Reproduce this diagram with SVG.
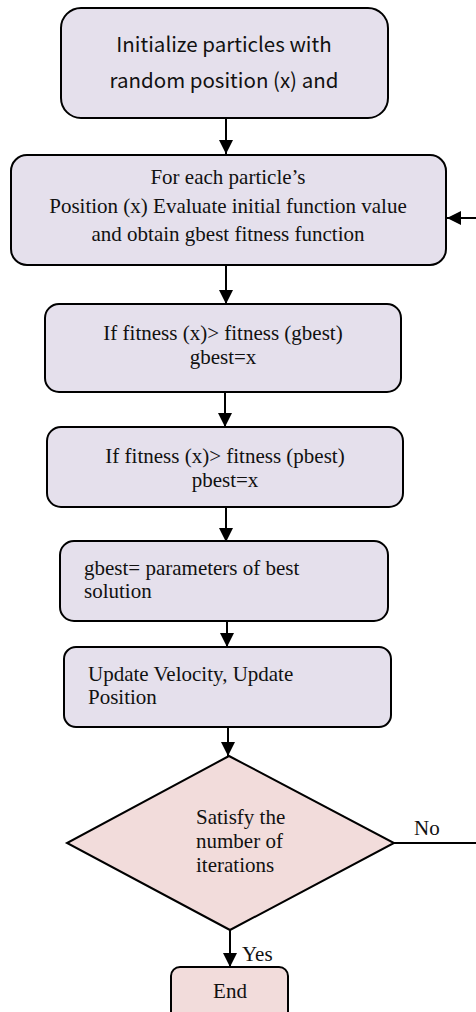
<svg xmlns="http://www.w3.org/2000/svg" width="476" height="1012" viewBox="0 0 476 1012">
<style>
.box{fill:#e5e0ec;stroke:#000;stroke-width:2}
.dec{fill:#f2dcdb;stroke:#000;stroke-width:2}
.ln{fill:none;stroke:#000;stroke-width:2}
.sr{font-family:"Liberation Serif","Times New Roman",serif;font-size:21px;fill:#111}
.ss{font-family:"Noto Sans CJK KR","Noto Sans",sans-serif;font-size:20.5px;fill:#111}
.c{text-anchor:middle}
</style>
<defs>
<marker id="ah" markerUnits="userSpaceOnUse" markerWidth="14" markerHeight="14" viewBox="0 0 14 14" refX="14" refY="7" orient="auto">
<path d="M0,0 L14,7 L0,14 Z" fill="#000"/>
</marker>
</defs>
<rect width="476" height="1012" fill="#fff"/>
<g id="connectors">
<line class="ln" x1="226" y1="118" x2="226" y2="154" marker-end="url(#ah)"/>
<line class="ln" x1="226" y1="265" x2="226" y2="304" marker-end="url(#ah)"/>
<line class="ln" x1="225" y1="392" x2="225" y2="427" marker-end="url(#ah)"/>
<line class="ln" x1="226" y1="507" x2="226" y2="542" marker-end="url(#ah)"/>
<line class="ln" x1="227" y1="621" x2="227" y2="647" marker-end="url(#ah)"/>
<line class="ln" x1="228" y1="727" x2="228" y2="756" marker-end="url(#ah)"/>
<line class="ln" x1="230" y1="930" x2="230" y2="967" marker-end="url(#ah)"/>
<polyline class="ln" points="394,843 480,843 480,218 447,218" marker-end="url(#ah)"/>
<text class="sr" x="414" y="835">No</text>
<text class="sr" x="242" y="961">Yes</text>
</g>
<g id="init">
<rect class="box" x="61" y="8" width="327" height="110" rx="20"/>
<text class="ss c" x="224" y="52">Initialize particles with</text>
<text class="ss c" x="224" y="88">random position (x) and</text>
</g>
<g id="evaluate">
<rect class="box" x="11" y="155" width="435" height="110" rx="16"/>
<text class="sr c" x="228" y="184">For each particle’s</text>
<text class="sr c" x="228" y="213">Position (x) Evaluate initial function value</text>
<text class="sr c" x="228" y="241">and obtain gbest fitness function</text>
</g>
<g id="gbest-check">
<rect class="box" x="45" y="304" width="356" height="88" rx="14"/>
<text class="sr c" x="223" y="340">If fitness (x)&gt; fitness (gbest)</text>
<text class="sr c" x="223" y="364">gbest=x</text>
</g>
<g id="pbest-check">
<rect class="box" x="47" y="427" width="356" height="80" rx="14"/>
<text class="sr c" x="225" y="463">If fitness (x)&gt; fitness (pbest)</text>
<text class="sr c" x="225" y="487">pbest=x</text>
</g>
<g id="gbest-params">
<rect class="box" x="60" y="541" width="328" height="80" rx="14"/>
<text class="sr" x="84" y="575">gbest= parameters of best</text>
<text class="sr" x="84" y="598">solution</text>
</g>
<g id="update">
<rect class="box" x="64" y="647" width="327" height="80" rx="12"/>
<text class="sr" x="88" y="681">Update Velocity, Update</text>
<text class="sr" x="88" y="704">Position</text>
</g>
<g id="decision">
<polygon class="dec" points="229,756 394,843 230,930 67,843"/>
<text class="sr" x="196" y="824">Satisfy the</text>
<text class="sr" x="196" y="848">number of</text>
<text class="sr" x="196" y="872">iterations</text>
</g>
<g id="end">
<rect class="dec" x="171" y="967" width="117" height="60" rx="9"/>
<text class="sr c" x="230" y="998">End</text>
</g>
</svg>
